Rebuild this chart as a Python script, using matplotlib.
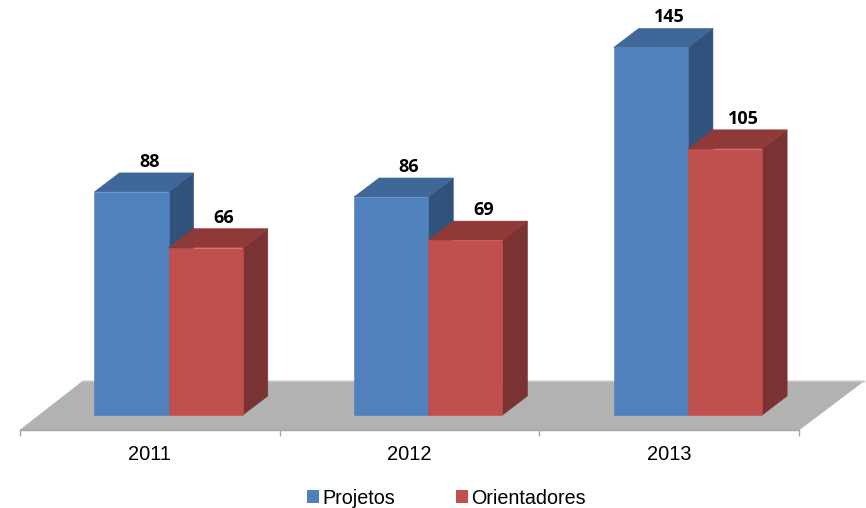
import matplotlib
matplotlib.use("Agg")
import matplotlib.pyplot as plt
from matplotlib.patches import Polygon, Patch
import numpy as np

years = ["2011", "2012", "2013"]
projetos = [88, 86, 145]
orientadores = [66, 69, 105]

W, H = 866, 508
X0, X1, YB = 20, 799, 430      # axis frame in px
PX_PER_UNIT = 2.535
BASE_PX = 415                  # px row of value 0
DX, DY = 25, 19                # depth in px
BAR_PX = 74.2

fig = plt.figure(figsize=(W / 100, H / 100), dpi=100, facecolor="white")
ax = fig.add_axes([X0 / W, (H - YB) / H, (X1 - X0) / W, YB / H])
cat_px = (X1 - X0) / 3
ax.set_xlim(0, 3)
ax.set_ylim((BASE_PX - YB) / PX_PER_UNIT, BASE_PX / PX_PER_UNIT)
ax.patch.set_alpha(0)

dx = DX / cat_px
dy = DY / PX_PER_UNIT
bw = BAR_PX / cat_px
y_axis = (BASE_PX - YB) / PX_PER_UNIT


def poly(pts, color, z):
    ax.add_patch(Polygon(pts, closed=True, facecolor=color, edgecolor=color,
                         linewidth=0.4, zorder=z, clip_on=False))


# floor
floor_back = y_axis + 49 / PX_PER_UNIT
poly([(0, y_axis), (63 / cat_px, floor_back), (3 + 65 / cat_px, floor_back), (3, y_axis)],
     "#b2b2b2", 1)
ax.plot([63 / cat_px, 3 + 65 / cat_px], [floor_back, floor_back], color="#c6c6c6",
        lw=1, zorder=1.1, clip_on=False)


def bar3d(x, v, front, top, side, z):
    poly([(x + bw, 0), (x + bw + dx, dy), (x + bw + dx, v + dy), (x + bw, v)], side, z)
    poly([(x, v), (x + dx, v + dy), (x + bw + dx, v + dy), (x + bw, v)], top, z)
    poly([(x, 0), (x + bw, 0), (x + bw, v), (x, v)], front, z + 0.1)
    ax.text(x + bw / 2 + 18 / cat_px, v + 30 / PX_PER_UNIT, str(v), ha="center", va="center",
            fontsize=13, fontweight="bold", family="Open Sans", color="black", zorder=10)


BLUE = ("#4f81bd", "#3f6797", "#31527b")
RED = ("#c0504d", "#8f3a38", "#7a3332")
for i in range(3):
    left = i + (74.4 / cat_px)
    bar3d(left + bw, orientadores[i], *RED, 3)
    bar3d(left, projetos[i], *BLUE, 2)

# axis
for s in ("top", "left", "right"):
    ax.spines[s].set_visible(False)
ax.spines["bottom"].set_color("#a6a6a6")
ax.spines["bottom"].set_linewidth(1)
ax.spines["bottom"].set_zorder(1.2)
ax.set_yticks([])
ax.set_xticks(np.arange(4))
ax.set_xticklabels([])
ax.tick_params(axis="x", which="major", length=4, width=1, color="#a6a6a6")
ax.set_xticks(np.arange(3) + 0.5, minor=True)
ax.set_xticklabels(years, minor=True, fontsize=14.4, family="Liberation Sans", color="black")
ax.tick_params(axis="x", which="minor", length=0, pad=10.8)

handles = [Patch(facecolor=BLUE[0], label="Projetos"), Patch(facecolor=RED[0], label="Orientadores")]
fig.legend(handles=handles, ncol=2, loc="center", bbox_to_anchor=(446.5 / W, (H - 498) / H),
           frameon=False, handlelength=0.62, handleheight=0.62, handletextpad=0.15,
           columnspacing=3.1, borderpad=0, borderaxespad=0,
           prop={"family": "Liberation Sans", "size": 14.2})

fig.savefig("out.png", dpi=100)
